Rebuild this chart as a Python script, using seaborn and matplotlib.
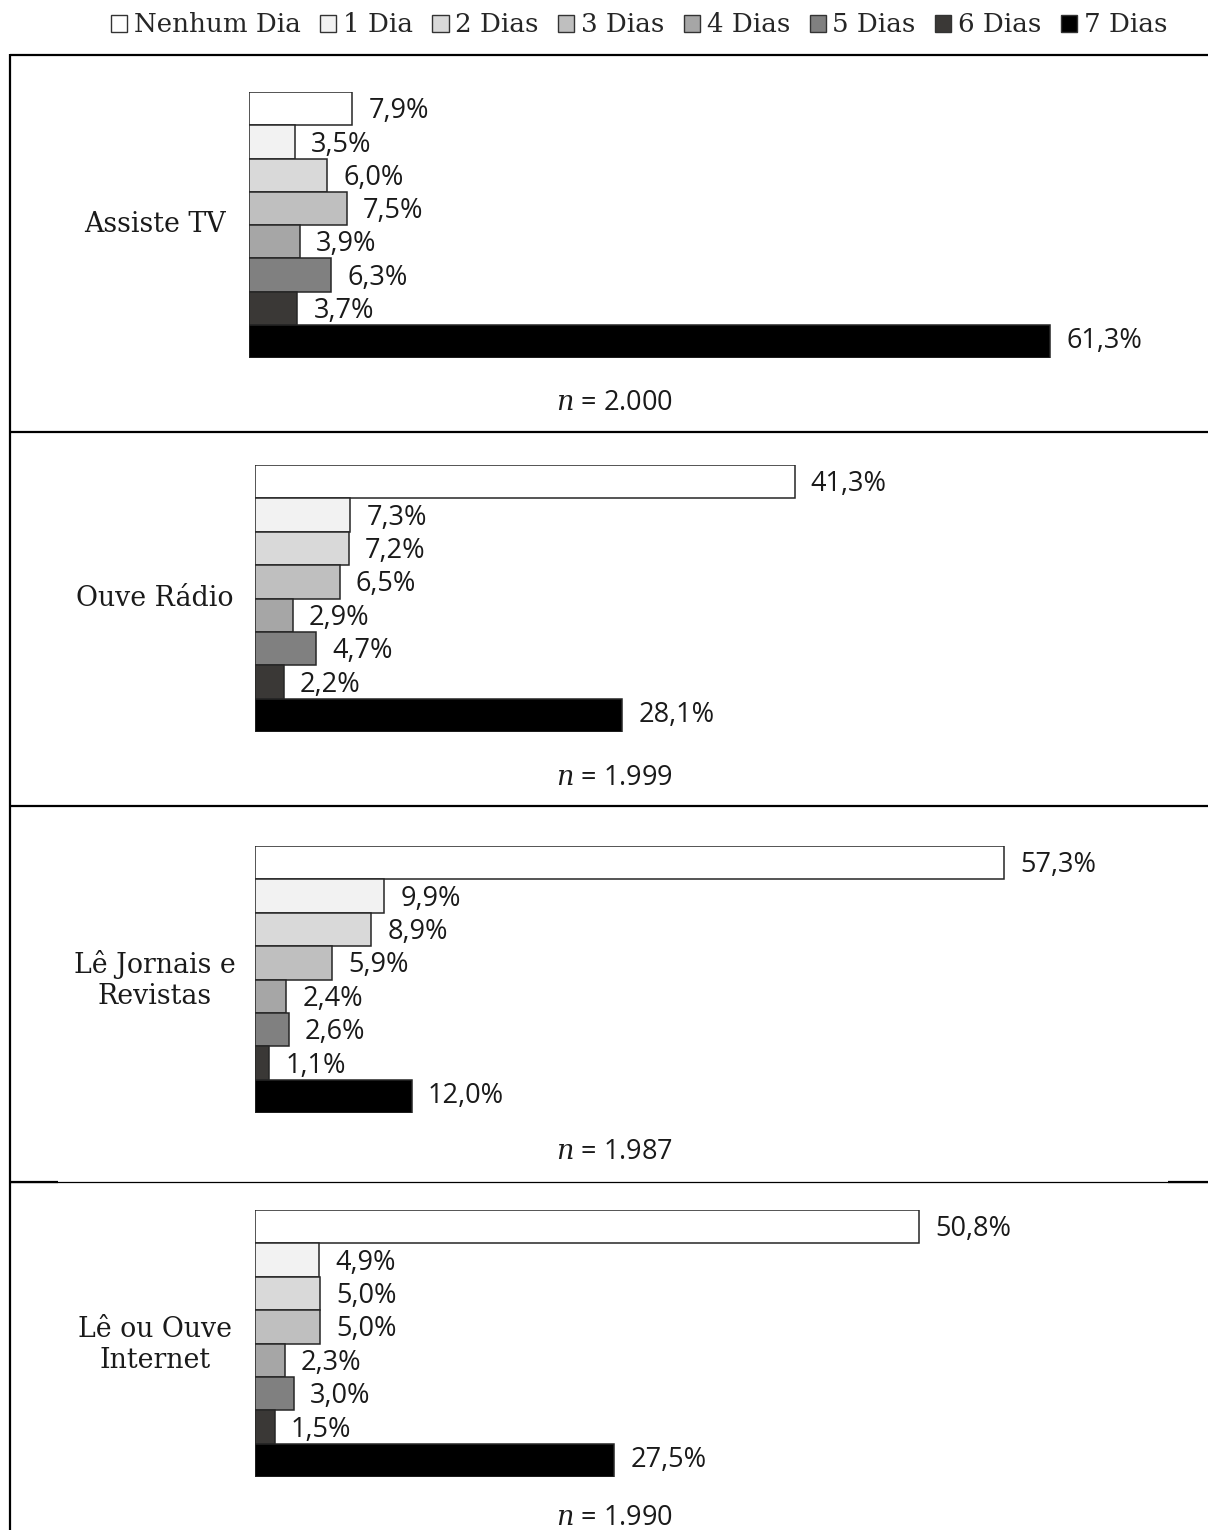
import matplotlib
matplotlib.use("Agg")
import matplotlib.pyplot as plt
from matplotlib.patches import Patch
from matplotlib.lines import Line2D
import seaborn as sns
import pandas as pd

# Frequency categories and their grey shades
dias = ["Nenhum Dia", "1 Dia", "2 Dias", "3 Dias", "4 Dias", "5 Dias", "6 Dias", "7 Dias"]
cores = ["#ffffff", "#f2f2f2", "#d9d9d9", "#bfbfbf", "#a6a6a6", "#808080", "#3a3836", "#000000"]

# Activities and sample sizes
atividades = ["Assiste TV", "Ouve Rádio", "Lê Jornais e\nRevistas", "Lê ou Ouve\nInternet"]
amostras = ["2.000", "1.999", "1.987", "1.990"]

# Percentages per activity (same order as dias)
tv = [7.9, 3.5, 6.0, 7.5, 3.9, 6.3, 3.7, 61.3]
radio = [41.3, 7.3, 7.2, 6.5, 2.9, 4.7, 2.2, 28.1]
jornais = [57.3, 9.9, 8.9, 5.9, 2.4, 2.6, 1.1, 12.0]
internet = [50.8, 4.9, 5.0, 5.0, 2.3, 3.0, 1.5, 27.5]
series = [tv, radio, jornais, internet]

sns.set_theme(style="white")
plt.rcParams["font.family"] = ["Open Sans", "DejaVu Sans"]
plt.rcParams["mathtext.fontset"] = "dejavuserif"

W, H = 1208, 1530
fig = plt.figure(figsize=(W / 100, H / 100), dpi=100)

PX_PER_PCT = 13.07
# layout in pixels: (bar x origin, bars top, bars bottom, n-label y, category y)
paineis = [
    (249, 92, 358, 403, 225),
    (255, 465, 732, 778, 599),
    (255, 846, 1113, 1152, 980),
    (255, 1210, 1477, 1518, 1345),
]

serif = ["DejaVu Serif"]

for (x0, ytop, ybot, yn, ycat), valores, nome, n in zip(paineis, series, atividades, amostras):
    ax = fig.add_axes([x0 / W, 1 - ybot / H, (W - x0) / W, (ybot - ytop) / H])
    df = pd.DataFrame({"dia": dias, "pct": valores})
    sns.barplot(data=df, x="pct", y="dia", hue="dia", palette=cores, orient="h",
                width=1.0, edgecolor="#262626", linewidth=1.1, legend=False, ax=ax,
                saturation=1)
    ax.set_xlim(0, (W - x0) / PX_PER_PCT)
    ax.set_ylim(len(dias) - 0.5, -0.5)
    ax.axis("off")
    for i, v in enumerate(valores):
        dy = 0.08 if i < len(dias) - 1 else 0.0
        ax.text(v + 16 / PX_PER_PCT, i + dy, f"{v:.1f}%".replace(".", ","),
                ha="left", va="center", fontsize=19.5, color="#1a1a1a")
    fig.text(155 / W, 1 - ycat / H, nome, ha="center", va="center",
             fontsize=19.3, family=serif, color="#1a1a1a", linespacing=1.2)
    fig.text(614 / W, 1 - yn / H, r"$n$ = " + n, ha="center", va="center",
             fontsize=19.5, color="#1a1a1a")

# panel frame
def linha(x, y, lw):
    fig.add_artist(Line2D([v / W for v in x], [1 - v / H for v in y],
                          color="black", linewidth=lw, solid_capstyle="butt"))

linha([10, 10], [54, H], 1.6)
linha([10, W], [55, 55], 1.6)
linha([10, W], [432, 432], 1.6)
linha([10, W], [806, 806], 1.6)
linha([10, W], [1182, 1182], 0.9)
linha([10, 58], [1182, 1182], 1.6)
linha([1168, W], [1182, 1182], 1.6)

handles = [Patch(facecolor=c, edgecolor="#333333", linewidth=1.0) for c in cores]
fig.legend(handles, dias, loc="center", bbox_to_anchor=(639 / W, 1 - 25 / H), ncol=8,
           frameon=False, handlelength=0.62, handleheight=0.62, handletextpad=0.25,
           columnspacing=0.75, prop={"family": serif, "size": 18.8}, borderpad=0)

fig.savefig("out.png", dpi=100)
